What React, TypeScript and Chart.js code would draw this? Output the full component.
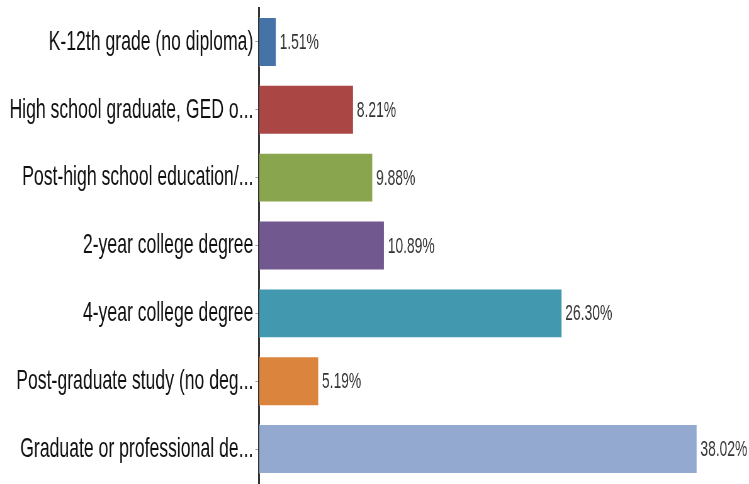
import React, { useEffect, useRef } from "react";
import { Chart, registerables } from "chart.js";

Chart.register(...registerables);

const categories: string[] = [
  "K-12th grade (no diploma)",
  "High school graduate, GED o...",
  "Post-high school education/...",
  "2-year college degree",
  "4-year college degree",
  "Post-graduate study (no deg...",
  "Graduate or professional de...",
];

const values: number[] = [1.51, 8.21, 9.88, 10.89, 26.3, 5.19, 38.02];

const barColors: string[] = [
  "#4572A7",
  "#AA4643",
  "#89A54E",
  "#71588F",
  "#4198AF",
  "#DB843D",
  "#93A9CF",
];

const CANVAS_W = 1190;
const CANVAS_H = 484;
const FONT = '"Liberation Sans", Arial, sans-serif';

const valueLabels = {
  id: "valueLabels",
  afterDatasetsDraw(chart: any) {
    const ctx = chart.ctx;
    const meta = chart.getDatasetMeta(0);
    ctx.save();
    ctx.font = `22px ${FONT}`;
    ctx.fillStyle = "#333333";
    ctx.textAlign = "left";
    ctx.textBaseline = "middle";
    meta.data.forEach((bar: any, i: number) => {
      const v = chart.data.datasets[0].data[i] as number;
      ctx.fillText(v.toFixed(2) + "%", bar.x + 5, bar.y + 1);
    });
    ctx.restore();
  },
};

export default function App() {
  const ref = useRef<HTMLCanvasElement | null>(null);

  useEffect(() => {
    if (!ref.current) return;
    const chart = new Chart(ref.current, {
      type: "bar",
      data: {
        labels: categories,
        datasets: [
          {
            data: values,
            backgroundColor: barColors,
            borderColor: "rgba(255,255,255,0.35)",
            borderWidth: 1,
            categoryPercentage: 1,
            barPercentage: 0.736,
          },
        ],
      },
      options: {
        indexAxis: "y",
        responsive: false,
        animation: false,
        devicePixelRatio: 1,
        layout: { padding: { top: 8, bottom: 1, left: 0, right: 46 } },
        plugins: {
          legend: { display: false },
          tooltip: { enabled: false },
          title: { display: false },
        },
        scales: {
          x: {
            display: false,
            min: 0,
            max: 40,
          },
          y: {
            afterFit: (scale: any) => {
              scale.width = 411.5;
              scale.paddingTop = 0;
              scale.paddingBottom = 0;
            },
            grid: {
              display: true,
              drawOnChartArea: false,
              drawTicks: true,
              tickLength: 6,
              offset: false,
              color: "#A0A0A0",
            },
            border: { display: true, color: "#333333", width: 3 },
            ticks: {
              padding: 3,
              color: "#111111",
              font: { family: FONT, size: 28 },
              autoSkip: false,
            },
          },
        },
      },
      plugins: [valueLabels],
    });
    return () => chart.destroy();
  }, []);

  return (
    <div
      style={{
        position: "fixed",
        left: 0,
        top: 0,
        width: 749,
        height: 484,
        overflow: "hidden",
        background: "#ffffff",
      }}
    >
      <canvas
        ref={ref}
        width={CANVAS_W}
        height={CANVAS_H}
        style={{
          width: CANVAS_W,
          height: CANVAS_H,
          transform: `scaleX(${749 / CANVAS_W})`,
          transformOrigin: "0 0",
          display: "block",
        }}
      />
    </div>
  );
}
